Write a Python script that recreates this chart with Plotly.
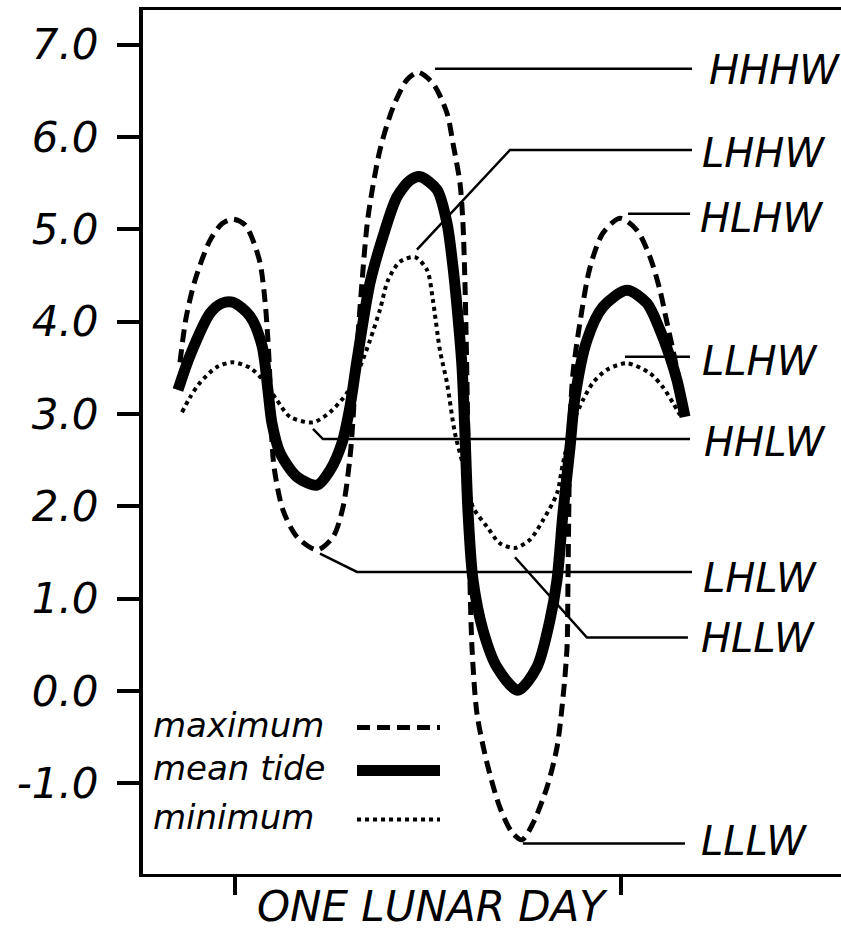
import plotly.graph_objects as go

# Tide heights (ft) over one lunar day; time in lunar hours from the first tick
hours_max = [-3.54, -3.15, -2.57, -1.61, -0.84, -0.13, 0.64, 1.09, 1.61, 1.93, 2.12, 2.25, 2.32, 2.51,
             3.09, 3.99, 5.28, 6.31, 6.95, 7.40, 7.59, 7.85, 8.17, 8.56, 9.33, 10.17, 11.07, 11.78,
             12.74, 13.64, 14.03, 14.48, 14.67, 14.80, 14.87, 14.93, 15.00, 15.06, 15.12, 15.25,
             15.57, 16.22, 17.05, 17.83, 18.47, 19.18, 20.08, 20.72, 21.11, 21.37, 21.43, 21.49,
             21.56, 21.75, 22.20, 22.85, 23.68, 24.78, 25.87, 26.71, 27.35, 27.80, 28.19, 28.64, 28.89]
ft_max = [3.56, 4.04, 4.45, 4.88, 5.06, 5.11, 5.05, 4.91, 4.64, 4.23, 3.80, 3.37, 2.93, 2.43,
          1.96, 1.67, 1.53, 1.67, 1.99, 2.53, 2.93, 3.69, 4.42, 5.13, 5.86, 6.32, 6.62, 6.70,
          6.58, 6.26, 5.93, 5.50, 5.07, 4.42, 3.88, 3.34, 2.61, 1.85, 1.20, 0.48,
          -0.24, -0.78, -1.26, -1.53, -1.61, -1.43, -1.04, -0.61, -0.07, 0.48, 1.20, 2.07,
          2.90, 3.44, 3.99, 4.59, 4.96, 5.12, 4.99, 4.70, 4.34, 3.99, 3.69, 3.31, 3.04]

hours_mean = [-3.67, -2.90, -1.61, -0.84, -0.13, 0.97, 1.74, 2.12, 2.38, 2.90, 3.99, 5.28, 6.11,
              6.89, 7.40, 7.85, 8.69, 9.52, 10.42, 11.26, 11.91, 13.00, 13.64, 14.03, 14.35, 14.61,
              14.80, 15.00, 15.32, 15.96, 16.86, 18.21, 19.43, 20.27, 20.72, 21.11, 21.56, 21.88,
              22.65, 23.68, 25.23, 26.51, 27.35, 27.99, 28.44, 28.96]
ft_mean = [3.26, 3.63, 4.09, 4.20, 4.21, 4.06, 3.74, 3.26, 2.90, 2.58, 2.32, 2.23, 2.39,
           2.69, 3.08, 3.58, 4.42, 4.92, 5.35, 5.53, 5.57, 5.43, 5.07, 4.59, 4.05, 3.51,
           2.79, 1.93, 1.20, 0.66, 0.26, 0.01, 0.26, 0.77, 1.20, 1.93, 2.64, 3.18,
           3.80, 4.16, 4.34, 4.20, 3.91, 3.62, 3.37, 2.97]

hours_min = [-3.41, -2.90, -2.25, -1.16, -0.13, 0.97, 1.80, 2.70, 3.54, 5.02, 6.11, 7.21, 8.04,
             8.69, 9.33, 9.85, 10.62, 11.58, 12.36, 12.74, 13.19, 13.64, 14.16, 14.93, 15.32,
             16.22, 17.05, 18.02, 18.98, 19.82, 20.72, 21.11, 21.75, 22.39, 23.04, 23.94, 25.23,
             26.71, 27.54, 28.19, 28.64]
ft_min = [3.02, 3.18, 3.34, 3.51, 3.56, 3.50, 3.37, 3.15, 2.97, 2.91, 3.02, 3.23, 3.51,
          3.80, 4.13, 4.45, 4.65, 4.70, 4.56, 4.23, 3.69, 3.34, 2.79, 2.29, 1.99,
          1.78, 1.60, 1.55, 1.64, 1.85, 2.14, 2.47, 2.90, 3.15, 3.34, 3.48, 3.55,
          3.44, 3.29, 3.12, 2.99]

y_tick_values = [7, 6, 5, 4, 3, 2, 1, 0, -1]
y_tick_labels = ["7.0", "6.0", "5.0", "4.0", "3.0", "2.0", "1.0", "0.0", "-1.0"]
day_ticks = [0, 24.84]
x_title = "ONE LUNAR DAY"

legend_names = ["maximum", "mean tide", "minimum"]

# Tide stage names with their leader-line paths (hours, ft)
stage_names = ["HHHW", "LHHW", "HLHW", "LLHW", "HHLW", "LHLW", "HLLW", "LLLW"]
stage_paths = [
    [(12.87, 6.74), (29.41, 6.74)],
    [(11.71, 4.78), (17.70, 5.86), (29.41, 5.86)],
    [(25.29, 5.17), (29.28, 5.17)],
    [(25.10, 3.62), (29.28, 3.62)],
    [(5.02, 2.84), (5.66, 2.73), (29.28, 2.73)],
    [(5.47, 1.49), (7.85, 1.29), (29.41, 1.29)],
    [(18.02, 1.45), (22.65, 0.58), (29.15, 0.58)],
    [(18.53, -1.65), (28.96, -1.65)],
]
stage_text_y = [6.72, 5.83, 5.12, 3.57, 2.70, 1.23, 0.58, -1.62]
stage_text_x = [30.37, 29.92, 29.80, 29.92, 30.05, 29.98, 29.85, 29.85]

FONT = "DejaVu Sans"
INK = "black"
DASH_MAX = dict(width=5, dash="13px,7px")
DASH_MIN = dict(width=4, dash="4px,4px")
MEAN_W = 11

fig = go.Figure()

fig.add_trace(go.Scatter(x=hours_max, y=ft_max, mode="lines",
                         line=dict(color=INK, width=DASH_MAX["width"], dash=DASH_MAX["dash"],
                                   shape="spline", smoothing=0.8),
                         showlegend=False, hoverinfo="skip"))
fig.add_trace(go.Scatter(x=hours_min, y=ft_min, mode="lines",
                         line=dict(color=INK, width=DASH_MIN["width"], dash=DASH_MIN["dash"],
                                   shape="spline", smoothing=0.8),
                         showlegend=False, hoverinfo="skip"))
fig.add_trace(go.Scatter(x=hours_mean, y=ft_mean, mode="lines",
                         line=dict(color=INK, width=MEAN_W, shape="spline", smoothing=0.8),
                         showlegend=False, hoverinfo="skip"))

# leader lines and stage labels
for name, path, ty, tx in zip(stage_names, stage_paths, stage_text_y, stage_text_x):
    xs = [p[0] for p in path]
    ys = [p[1] for p in path]
    fig.add_trace(go.Scatter(x=xs, y=ys, mode="lines", line=dict(color=INK, width=2.5),
                             showlegend=False, hoverinfo="skip"))
    fig.add_annotation(x=tx, y=ty, xref="x", yref="y", text=name, showarrow=False,
                       xanchor="left", yanchor="middle",
                       font=dict(family=FONT, size=40, color=INK, style="italic"))

# axis caption under the day ticks
fig.add_annotation(x=(day_ticks[0] + day_ticks[1]) / 2 + 0.26, y=-0.007, xref="x", yref="paper",
                   text=x_title, showarrow=False, xanchor="center", yanchor="top",
                   font=dict(family=FONT, size=42, color=INK, style="italic"))

# hand-made key: text followed by a line sample
legend_rows = [0.1725, 0.1227, 0.066]
legend_styles = [DASH_MAX, dict(width=MEAN_W, dash="solid"), DASH_MIN]
for name, row, st in zip(legend_names, legend_rows, legend_styles):
    fig.add_annotation(x=0.012, y=row, xref="paper", yref="paper", text=name, showarrow=False,
                       xanchor="left", yanchor="middle",
                       font=dict(family=FONT, size=34, color=INK, style="italic"))
    fig.add_shape(type="line", xref="paper", yref="paper", x0=0.3066, x1=0.4255,
                  y0=row - 0.003, y1=row - 0.003,
                  line=dict(color=INK, width=st["width"], dash=st["dash"]))

fig.update_xaxes(range=[-5.92, 39.0], showline=True, linewidth=3, linecolor=INK, mirror=True,
                 ticks="outside", tickvals=day_ticks, ticklen=18, tickwidth=4, tickcolor=INK,
                 showticklabels=False, showgrid=False, zeroline=False, fixedrange=True)
fig.update_yaxes(range=[-1.98, 7.375], showline=True, linewidth=4, linecolor=INK,
                 ticks="outside", tickvals=y_tick_values, ticktext=y_tick_labels, ticklen=22,
                 tickwidth=3.5, tickcolor=INK, ticklabelstandoff=10,
                 tickfont=dict(family=FONT, size=42, color=INK, style="italic"),
                 showgrid=False, zeroline=False, fixedrange=True)

fig.update_layout(width=841, height=932, margin=dict(l=143, r=0, t=10, b=58),
                  paper_bgcolor="white", plot_bgcolor="white", showlegend=False,
                  font=dict(family=FONT, color=INK))

fig.write_html("out.html")
